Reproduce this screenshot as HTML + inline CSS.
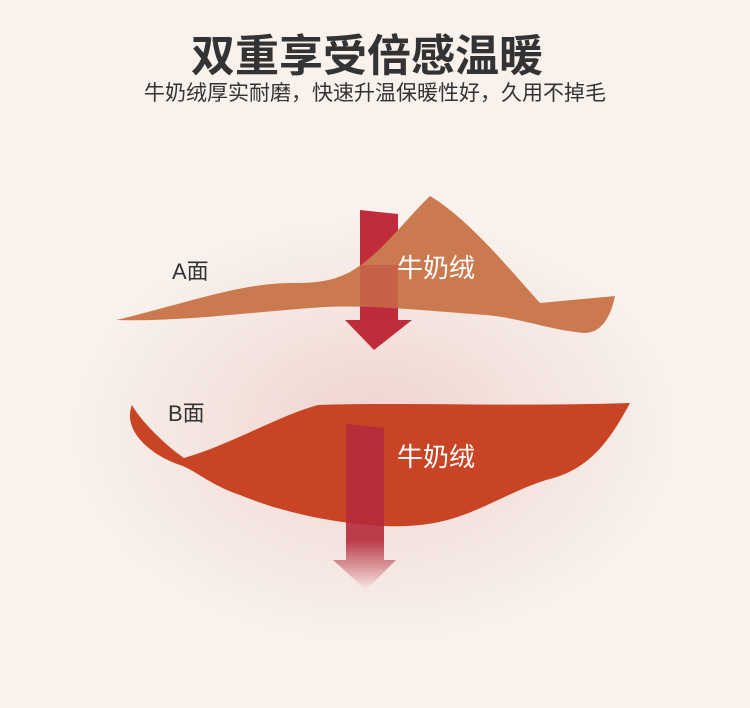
<!DOCTYPE html>
<html><head><meta charset="utf-8"><style>
html,body{margin:0;padding:0}
body{width:750px;height:708px;position:relative;overflow:hidden;background:#f8f1ec;font-family:"Liberation Sans","Noto Sans CJK SC",sans-serif}
.t{position:absolute;left:0;width:750px;text-align:center;white-space:nowrap}
</style></head><body>
<svg width="750" height="708" style="position:absolute;left:0;top:0">
<defs>
<radialGradient id="bg" cx="375" cy="430" r="300" gradientUnits="userSpaceOnUse" gradientTransform="translate(375 430) scale(1 0.7) translate(-375 -430)">
<stop offset="0" stop-color="#efd3cf"/><stop offset="0.55" stop-color="#f4e4df"/><stop offset="1" stop-color="#f8f1ec"/></radialGradient>
<linearGradient id="fadeB" x1="0" y1="0" x2="0" y2="1"><stop offset="0" stop-color="#b52a3a"/><stop offset="0.7" stop-color="#b52a3a"/><stop offset="1" stop-color="#b52a3a" stop-opacity="0"/></linearGradient>
</defs>
<rect width="750" height="708" fill="url(#bg)"/>
<polygon points="360,210 398,214 398,320 412,320 374,350 345,320 360,320" fill="#c12c3c"/>
<path d="M116,320 C180,305 240,283 290,283 C315,283 330,282 350,272 C380,255 405,220 430,196 C470,220 510,270 540,303 L615,296 C610,320 600,333 584,333 C550,330 520,318 486,315 C420,310 370,305 325,307 C250,312 180,322 116,320 Z" fill="#cb7a4f"/>
<polygon points="360,265 398,265 398,320 360,320" fill="#c12c3c" opacity="0.3"/>
<path d="M132,405 C140,420 165,445 184,458 C230,445 280,415 318,405 C400,402 520,407 630,403 C610,440 590,470 546,480 C500,495 470,520 420,525 C380,530 300,520 240,495 C210,485 195,470 180,465 C150,455 122,430 132,405 Z" fill="#c84424"/>
<polygon points="346,424 384,428 384,560 396,560 366,590 333,560 346,560" fill="url(#fadeB)" opacity="0.9"/>
</svg>
<div class="t" style="top:20px;font-size:44px;font-weight:bold;color:#333;left:-8px">双重享受倍感温暖</div>
<div class="t" style="top:77px;font-size:21px;color:#333">牛奶绒厚实耐磨，快速升温保暖性好，久用不掉毛</div>
<div style="position:absolute;left:172px;top:254px;font-size:22px;color:#333">A面</div>
<div style="position:absolute;left:168px;top:396px;font-size:22px;color:#333">B面</div>
<div style="position:absolute;left:397px;top:248px;font-size:26px;color:#fff">牛奶绒</div>
<div style="position:absolute;left:397px;top:437px;font-size:26px;color:#fff">牛奶绒</div>
</body></html>
